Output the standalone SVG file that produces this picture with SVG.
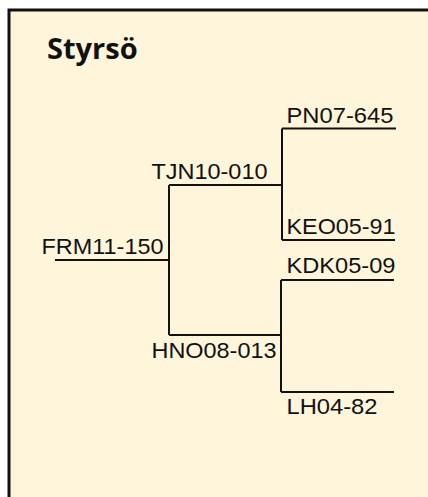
<svg xmlns="http://www.w3.org/2000/svg" width="428" height="497" viewBox="0 0 428 497">
<style>
.lbl{font-family:"Liberation Sans",Arial,sans-serif;font-size:22.5px;fill:#111}
.ttl{font-family:"Open Sans","DejaVu Sans",sans-serif;font-weight:bold;font-size:29px;fill:#111}
.edge{stroke:#111;stroke-width:2;fill:none}
</style>
<rect x="9" y="10" width="430" height="500" fill="#fff5db" stroke="#111" stroke-width="3"/>
<text class="ttl" x="47" y="59">Styrsö</text>
<g id="connectors">
<path class="edge" d="M55,260 H169 M169,185 V335 M169,185 H282 M169,335 H281 M282,128.5 V240 M282,128.5 H396 M282,240 H395 M281,280 V392 M281,280 H394 M281,392 H394"/>
</g>
<g id="FRM11-150"><text class="lbl" x="41.5" y="253.5" textLength="122" lengthAdjust="spacingAndGlyphs">FRM11-150</text></g>
<g id="TJN10-010"><text class="lbl" x="151.5" y="178.5" textLength="116" lengthAdjust="spacingAndGlyphs">TJN10-010</text></g>
<g id="HNO08-013"><text class="lbl" x="151.5" y="358" textLength="125" lengthAdjust="spacingAndGlyphs">HNO08-013</text></g>
<g id="PN07-645"><text class="lbl" x="286.5" y="122.5" textLength="107" lengthAdjust="spacingAndGlyphs">PN07-645</text></g>
<g id="KEO05-91"><text class="lbl" x="286.5" y="233.5" textLength="109" lengthAdjust="spacingAndGlyphs">KEO05-91</text></g>
<g id="KDK05-09"><text class="lbl" x="286.5" y="273" textLength="109" lengthAdjust="spacingAndGlyphs">KDK05-09</text></g>
<g id="LH04-82"><text class="lbl" x="286.5" y="414" textLength="91" lengthAdjust="spacingAndGlyphs">LH04-82</text></g>
</svg>
